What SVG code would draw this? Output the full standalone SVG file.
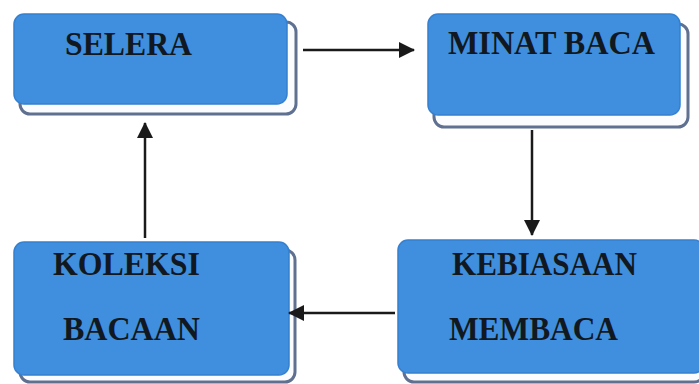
<svg xmlns="http://www.w3.org/2000/svg" width="699" height="384" viewBox="0 0 699 384">
<defs>
<style>
.sh{fill:#fbfcfe;stroke:#5f7090;stroke-width:3}
.bx{fill:#3f8fde;stroke:#3580d0;stroke-width:1.5}
.t{font-family:"Liberation Serif","Times New Roman",serif;font-weight:bold;font-size:33px;fill:#111820}
.c{stroke:#1a1a1a;stroke-width:2.5;fill:none}
</style>
<marker id="ah" viewBox="0 0 16 16" refX="15" refY="8" markerWidth="16" markerHeight="16" markerUnits="userSpaceOnUse" orient="auto">
<path d="M0,0 L16,8 L0,16 Z" fill="#1a1a1a"/>
</marker>
</defs>
<rect width="699" height="384" fill="#ffffff"/>
<g id="node-selera">
<rect class="sh" x="20" y="22" width="276" height="92" rx="10"/>
<rect class="bx" x="14" y="14" width="273" height="90" rx="10"/>
<text class="t" x="65" y="55" textLength="127" lengthAdjust="spacingAndGlyphs">SELERA</text>
</g>
<g id="node-minat">
<rect class="sh" x="434" y="24" width="254" height="103" rx="10"/>
<rect class="bx" x="428" y="14" width="252" height="101" rx="10"/>
<text class="t" x="448" y="54" textLength="207" lengthAdjust="spacingAndGlyphs">MINAT BACA</text>
</g>
<g id="node-koleksi">
<rect class="sh" x="20" y="250" width="275" height="132" rx="10"/>
<rect class="bx" x="14" y="242" width="275" height="133" rx="10"/>
<text class="t" x="53" y="275" textLength="147" lengthAdjust="spacingAndGlyphs">KOLEKSI</text>
<text class="t" x="63" y="340" textLength="137" lengthAdjust="spacingAndGlyphs">BACAAN</text>
</g>
<g id="node-kebiasaan">
<rect class="sh" x="404" y="248" width="300" height="134" rx="10"/>
<rect class="bx" x="398" y="240" width="306" height="133" rx="10"/>
<text class="t" x="452" y="275" textLength="185" lengthAdjust="spacingAndGlyphs">KEBIASAAN</text>
<text class="t" x="449" y="340" textLength="169" lengthAdjust="spacingAndGlyphs">MEMBACA</text>
</g>
<g id="connectors">
<line class="c" x1="303" y1="50" x2="414" y2="50" marker-end="url(#ah)"/>
<line class="c" x1="532" y1="130" x2="532" y2="235" marker-end="url(#ah)"/>
<line class="c" x1="395" y1="313" x2="289" y2="313" marker-end="url(#ah)"/>
<line class="c" x1="145" y1="238" x2="145" y2="123" marker-end="url(#ah)"/>
</g>
</svg>
